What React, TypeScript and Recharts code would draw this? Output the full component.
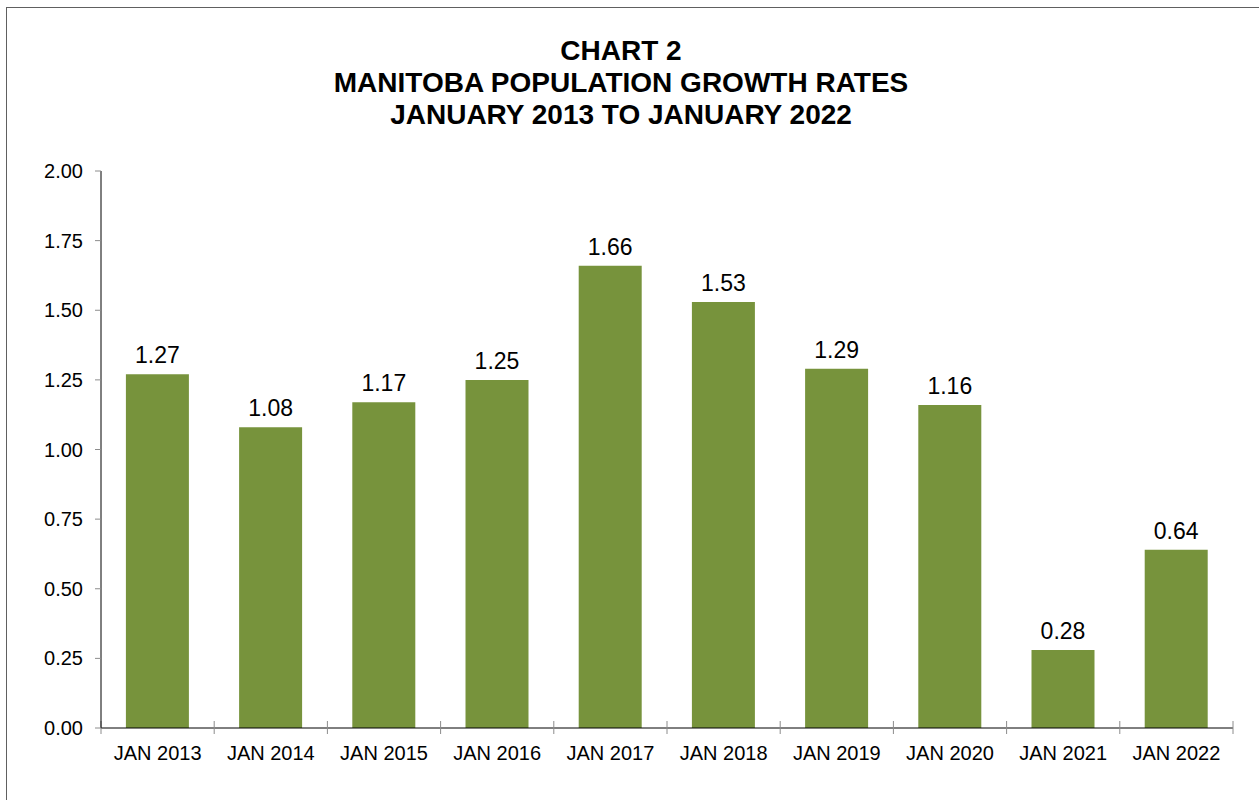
import { BarChart, Bar, XAxis, YAxis, LabelList } from 'recharts';

const categories = [
  'JAN 2013', 'JAN 2014', 'JAN 2015', 'JAN 2016', 'JAN 2017',
  'JAN 2018', 'JAN 2019', 'JAN 2020', 'JAN 2021', 'JAN 2022',
];
const growthRates = [1.27, 1.08, 1.17, 1.25, 1.66, 1.53, 1.29, 1.16, 0.28, 0.64];
const yTicks = [0, 0.25, 0.5, 0.75, 1, 1.25, 1.5, 1.75, 2];
const edgeTicks = [0, 1, 2, 3, 4, 5, 6, 7, 8, 9, 10];
const titleLines = ['CHART 2', 'MANITOBA POPULATION GROWTH RATES', 'JANUARY 2013 TO JANUARY 2022'];

const font = '"Liberation Sans", Arial, sans-serif';
const barColor = '#77933c';
const tickGray = '#8c8c8c';

const data = categories.map((name, i) => ({ name, idx: i + 0.5, value: growthRates[i] }));

const emptyTick = () => <g />;

export default function App() {
  return (
    <div style={{ position: 'absolute', left: 0, top: 0, width: 1259, height: 800, overflow: 'hidden', background: '#fff', fontFamily: font }}>
      {/* outer frame, only top and left edges are visible */}
      <div
        style={{
          position: 'absolute', left: 6, top: 7, width: 1253, height: 793,
          boxSizing: 'border-box', borderLeft: '1px solid #606060', borderTop: '1px solid #606060',
        }}
      />
      <div
        style={{
          position: 'absolute', left: 0, top: 35, width: 1242, textAlign: 'center',
          fontSize: 28, fontWeight: 'bold', lineHeight: '32px', color: '#000',
        }}
      >
        {titleLines.map((t) => (
          <div key={t}>{t}</div>
        ))}
      </div>
      <div style={{ position: 'absolute', left: 0, top: 0 }}>
        <BarChart
          width={1259}
          height={800}
          data={data}
          margin={{ top: 171, right: 26, bottom: 0, left: 0 }}
          barCategoryGap="22%"
        >
          {/* boundary tick marks, crossing the x axis */}
          <XAxis
            xAxisId={0}
            type="number"
            dataKey="idx"
            domain={[0, 10]}
            ticks={edgeTicks}
            height={1}
            tick={emptyTick}
            tickSize={6}
            tickLine={{ stroke: tickGray }}
            axisLine={{ stroke: '#000' }}
          />
          <XAxis
            xAxisId={1}
            type="number"
            dataKey="idx"
            domain={[0, 10]}
            ticks={edgeTicks}
            height={1}
            mirror
            tick={emptyTick}
            tickSize={7}
            tickLine={{ stroke: tickGray }}
            axisLine={false}
          />
          <XAxis
            xAxisId={2}
            dataKey="name"
            height={71}
            interval={0}
            tickSize={0}
            tickMargin={17}
            tickLine={false}
            axisLine={false}
            tick={{ fill: '#000', fontSize: 20, fontFamily: font }}
          />
          <YAxis
            yAxisId="inner"
            width={1}
            domain={[0, 2]}
            ticks={yTicks}
            mirror
            tick={emptyTick}
            tickSize={7}
            tickLine={{ stroke: tickGray }}
            axisLine={false}
          />
          <YAxis
            width={101}
            domain={[0, 2]}
            ticks={yTicks}
            tickFormatter={(v: number) => v.toFixed(2)}
            tickSize={6}
            tickMargin={12}
            tickLine={{ stroke: tickGray }}
            axisLine={{ stroke: '#000' }}
            tick={{ fill: '#000', fontSize: 20, fontFamily: font }}
          />
          <Bar dataKey="value" xAxisId={2} fill={barColor} isAnimationActive={false}>
            <LabelList
              dataKey="value"
              position="top"
              offset={11}
              formatter={(v: number) => v.toFixed(2)}
              style={{ fill: '#000', fontSize: 23, fontFamily: font }}
            />
          </Bar>
        </BarChart>
      </div>
    </div>
  );
}
